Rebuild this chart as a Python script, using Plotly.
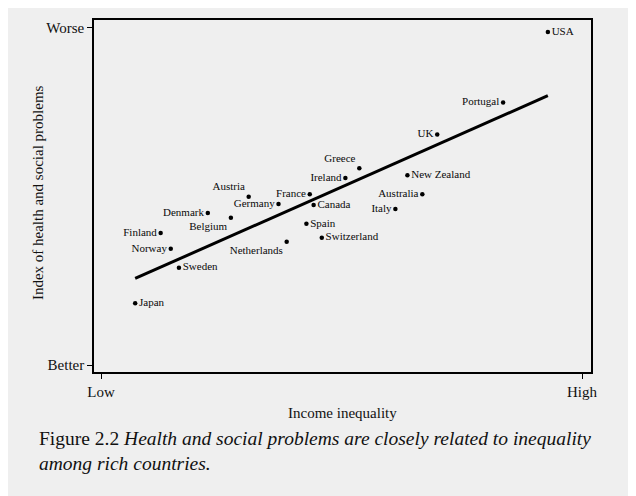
import plotly.graph_objects as go

# ---- data ----
countries = ["USA", "Portugal", "UK", "Greece", "Ireland", "New Zealand",
             "Australia", "Italy", "France", "Canada", "Spain", "Switzerland",
             "Netherlands", "Germany", "Austria", "Belgium", "Denmark",
             "Finland", "Norway", "Sweden", "Japan"]
income_inequality = [92.9, 83.6, 69.9, 53.7, 50.8, 63.7,
                     66.8, 61.2, 43.4, 44.2, 42.7, 45.9,
                     38.6, 36.9, 30.7, 27.0, 22.2,
                     12.4, 14.5, 16.2, 7.1]
health_social_index = [98.8, 77.9, 68.4, 58.4, 55.5, 56.3,
                       50.7, 46.3, 50.7, 47.5, 41.9, 37.8,
                       36.6, 47.8, 49.9, 43.7, 45.1,
                       39.2, 34.5, 28.9, 18.3]
label_positions = ["middle right", "middle left", "middle left", "top left",
                   "middle left", "middle right", "middle left", "middle left",
                   "middle left", "middle right", "middle right", "middle right",
                   "bottom left", "middle left", "top left", "bottom left",
                   "middle left", "middle left", "middle left", "middle right",
                   "middle right"]
fit_x = [7.1, 92.9]
fit_y = [25.7, 79.9]

x_tick_vals = [0, 100]
x_tick_text = ["Low", "High"]
y_tick_vals = [0, 100]
y_tick_text = ["Better", "Worse"]

SERIF = "Liberation Serif"
BG = "#efefef"

fig = go.Figure()
fig.add_trace(go.Scatter(
    x=fit_x, y=fit_y, mode="lines",
    line=dict(color="black", width=3), hoverinfo="skip", showlegend=False))
fig.add_trace(go.Scatter(
    x=income_inequality, y=health_social_index, mode="markers+text",
    text=countries, textposition=label_positions,
    textfont=dict(family=SERIF, size=11, color="#0a0a0a"),
    marker=dict(color="black", size=4.5), showlegend=False))

fig.update_layout(
    width=628, height=488,
    margin=dict(l=86, r=45, t=10, b=124),
    paper_bgcolor=BG, plot_bgcolor=BG,
    font=dict(family=SERIF, color="#111"),
    xaxis=dict(range=[-1.46, 101.87], tickvals=x_tick_vals, ticktext=x_tick_text,
               showgrid=False, zeroline=False, showline=True, mirror=True,
               linecolor="black", linewidth=1.5, ticks="outside", ticklen=5,
               tickcolor="black", tickfont=dict(family=SERIF, size=15, color="#111")),
    yaxis=dict(range=[-2.06, 102.36], tickvals=y_tick_vals, ticktext=y_tick_text,
               showgrid=False, zeroline=False, showline=True, mirror=True,
               linecolor="black", linewidth=1.5, ticks="outside", ticklen=5,
               tickcolor="black", tickfont=dict(family=SERIF, size=15, color="#111")),
    annotations=[
        dict(text="Income inequality", xref="paper", yref="paper",
             x=0.499, y=-0.1158, xanchor="center", yanchor="middle",
             showarrow=False, font=dict(family=SERIF, size=15, color="#111")),
        dict(text="Index of health and social problems", xref="paper", yref="paper",
             x=-0.1127, y=0.511, xanchor="center", yanchor="middle", textangle=-90,
             showarrow=False, font=dict(family=SERIF, size=15, color="#111")),
        dict(text="Figure 2.2 <i>Health and social problems are closely related to inequality"
                  "<br>among rich countries.</i>",
             xref="paper", yref="paper", x=-0.1147, y=-0.152,
             xanchor="left", yanchor="top", align="left", showarrow=False,
             font=dict(family=SERIF, size=19.5, color="#111")),
    ],
)

fig.write_html("out.html")
